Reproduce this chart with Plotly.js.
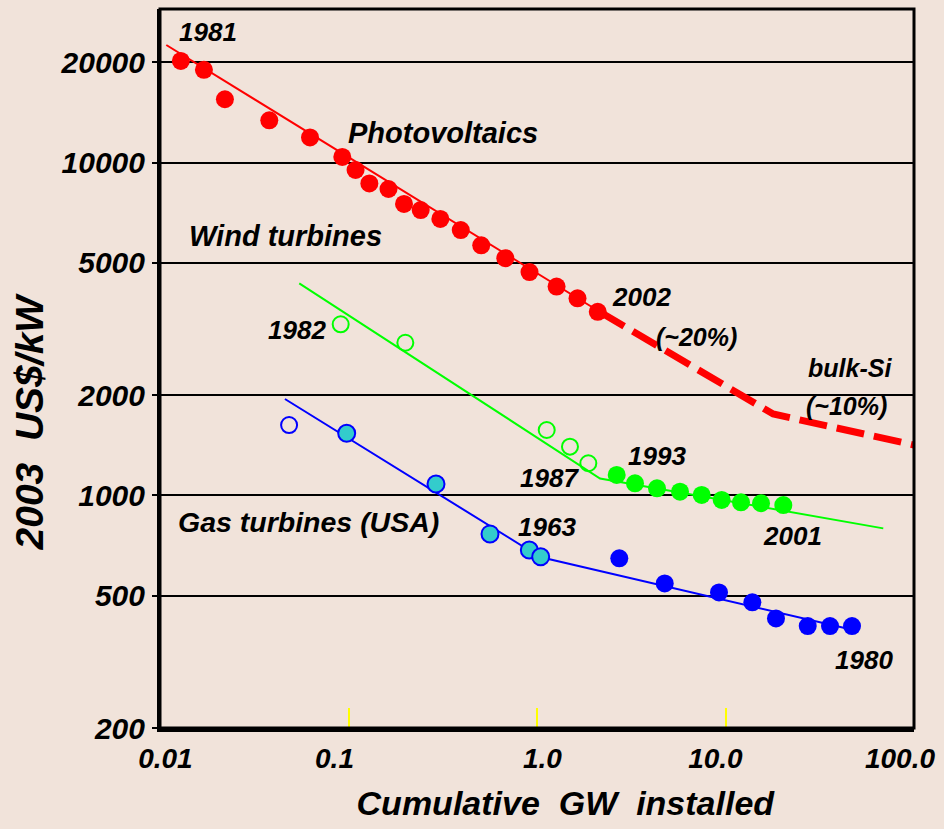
<!DOCTYPE html>
<html>
<head>
<meta charset="utf-8">
<script src="https://cdn.plot.ly/plotly-3.0.1.min.js"></script>
<style>html,body{margin:0;padding:0;background:#f1e3da;}#chart{width:944px;height:829px;}</style>
</head>
<body>
<div id="chart"></div>
<script>
// Photovoltaics (red)
const pvX = [0.0129,0.0171,0.0221,0.038,0.0625,0.0927,0.109,0.129,0.163,0.197,0.2415,0.307,0.394,0.506,0.679,0.9125,1.27,1.64,2.10];
const pvY = [20200,19000,15500,13400,11900,10400,9500,8660,8330,7510,7200,6770,6270,5640,5160,4690,4240,3910,3560];
const pvFitX = [0.0108, 2.16];
const pvFitY = [22560, 3557];
const pvProjX = [2.16, 17.9, 100];
const pvProjY = [3557, 1756, 1417];
// Wind turbines (green)
const windOpenX = [0.0909, 0.2002, 1.126, 1.496, 1.872];
const windOpenY = [3266, 2875, 1572, 1401, 1249];
const windX = [2.647,3.311,4.331,5.737,7.476,9.546,12.08,15.43,20.26];
const windY = [1152,1087,1050,1026,1003,969,953,947,935];
const windFitX = [0.0548, 2.16, 68.7];
const windFitY = [4338, 1124, 796];
// Gas turbines USA (blue)
const gasOpenX = [0.0484];
const gasOpenY = [1627];
const gasEarlyX = [0.0978,0.2912,0.5632,0.9105,1.046];
const gasEarlyY = [1537,1082,766,685,654];
const gasLateX = [2.733,4.759,9.237,13.88,18.53,27.30,35.85,46.90];
const gasLateY = [647,544,511,477,427,405,405,405];
const gasFitX = [0.046, 1.037, 47.6];
const gasFitY = [1948, 653, 394];
// Axes
const xTickVals = [0.01, 0.1, 1, 10, 100];
const xTickLabels = ['0.01', '0.1', '1.0', '10.0', '100.0'];
const xMarkVals = [0.1, 1, 10];
const yTickVals = [200, 500, 1000, 2000, 5000, 10000, 20000];
const yTickText = ['200', '500', '1000', '2000', '5000', '10000', '20000'];

const RED = '#ff0000', GREEN = '#00ff00', BLUE = '#0000ff', CYAN = '#33cccc';
const FONT = 'Liberation Sans, Arial, sans-serif';
const BG = '#f1e3da';
const nb = '\u00a0', zw = '\u200b';
// small leading padding so the labels sit where the original drawing put them
const padL = [5, 0, 5, 1, 0];
const xTickText = xTickLabels.map((t, i) => zw + nb.repeat(padL[i]) + t);

function line(x, y, color, width, dash, xa) {
  return {x: x, y: y, type: 'scatter', mode: 'lines', xaxis: xa || 'x', line: {color: color, width: width, dash: dash || 'solid'}, hoverinfo: 'skip', showlegend: false};
}
function pts(x, y, fill, lineColor, lw, size, xa) {
  return {x: x, y: y, type: 'scatter', mode: 'markers', xaxis: xa || 'x',
    marker: {size: size, color: fill, line: {color: lineColor, width: lw}}, showlegend: false};
}

const data = [
  line(pvFitX, pvFitY, RED, 2),
  line(pvProjX, pvProjY, RED, 7, '28px,10px'),
  line(windFitX, windFitY, GREEN, 2),
  line(gasFitX, gasFitY, BLUE, 2),
  pts(pvX, pvY, RED, RED, 0, 18),
  pts(windOpenX, windOpenY, 'rgba(0,0,0,0)', GREEN, 2, 16),
  pts(windX, windY, GREEN, GREEN, 0, 18),
  pts(gasOpenX, gasOpenY, 'rgba(0,0,0,0)', BLUE, 2, 16),
  pts(gasEarlyX, gasEarlyY, CYAN, BLUE, 2, 17),
  pts(gasLateX, gasLateY, BLUE, BLUE, 0, 18, 'x2')
];

function ann(text, x, y, size) {
  return {text: text, x: x, y: y, xref: 'paper', yref: 'paper', showarrow: false,
    xanchor: 'center', yanchor: 'middle',
    font: {family: FONT, size: size, color: '#000', weight: 'bold', style: 'italic'}};
}

const layout = {
  width: 944, height: 829,
  paper_bgcolor: BG, plot_bgcolor: BG,
  margin: {l: 160, r: 30, t: 9, b: 101},
  showlegend: false,
  xaxis: {
    type: 'log', range: [-2, 2], autorange: false,
    tickmode: 'array', tickvals: xTickVals, ticktext: xTickText,
    ticks: '', showgrid: false, zeroline: false,
    showline: true, linecolor: '#000', linewidth: 4, mirror: false,
    tickfont: {family: FONT, size: 28, color: '#000', weight: 'bold', style: 'italic'},
    ticklabelstandoff: 2, ticklabelshift: -14,
    title: {text: zw + nb.repeat(6) + 'Cumulative' + nb + nb + 'GW' + nb + nb + 'installed', standoff: 20,
      font: {family: FONT, size: 34, color: '#000', weight: 'bold', style: 'italic'}},
    automargin: false
  },
  xaxis2: {
    type: 'log', range: [-2, 2], autorange: false, overlaying: 'x', anchor: 'y', side: 'bottom',
    tickmode: 'array', tickvals: xMarkVals, ticks: 'inside', ticklen: 20, tickwidth: 2, tickcolor: '#ffff00',
    showticklabels: false, showgrid: false, zeroline: false, showline: false
  },
  yaxis: {
    type: 'log', range: [Math.log10(200), Math.log10(200) + 719 / 332.8], autorange: false,
    tickmode: 'array', tickvals: yTickVals, ticktext: yTickText,
    ticks: 'outside', ticklen: 5, tickwidth: 2, tickcolor: '#000',
    showgrid: true, gridcolor: '#000', gridwidth: 2, zeroline: false,
    showline: true, linecolor: '#000', linewidth: 3, mirror: false,
    tickfont: {family: FONT, size: 30, color: '#000', weight: 'bold', style: 'italic'},
    ticklabelstandoff: 1,
    title: {text: '2003' + nb + nb + 'US$/kW' + nb.repeat(10) + zw, standoff: 5,
      font: {family: FONT, size: 39, color: '#000', weight: 'bold', style: 'italic'}},
    automargin: false
  },
  shapes: [
    {type: 'rect', xref: 'paper', yref: 'paper', x0: 0, x1: 1, y0: 0, y1: 1,
      line: {color: '#000', width: 3}, fillcolor: 'rgba(0,0,0,0)', layer: 'above'}
  ],
  annotations: [
    ann('1981', 0.0637, 0.968, 26),
    ann('Photovoltaics', 0.3753, 0.8275, 29),
    ann('Wind turbines', 0.1658, 0.6843, 29),
    ann('2002', 0.6389, 0.5999, 26),
    ann('(~20%)', 0.7118, 0.5434, 25),
    ann('bulk-Si', 0.9151, 0.5003, 25),
    ann('(~10%)', 0.9111, 0.4483, 25),
    ann('1982', 0.1813, 0.5535, 26),
    ann('1987', 0.5163, 0.3473, 26),
    ann('1993', 0.6596, 0.3787, 26),
    ann('2001', 0.8391, 0.2670, 26),
    ann('Gas turbines (USA)', 0.1976, 0.2865, 28.5),
    ann('1963', 0.5129, 0.2800, 26),
    ann('1980', 0.9337, 0.0946, 26)
  ]
};

Plotly.newPlot('chart', data, layout, {displayModeBar: false, staticPlot: true});
</script>
</body>
</html>
